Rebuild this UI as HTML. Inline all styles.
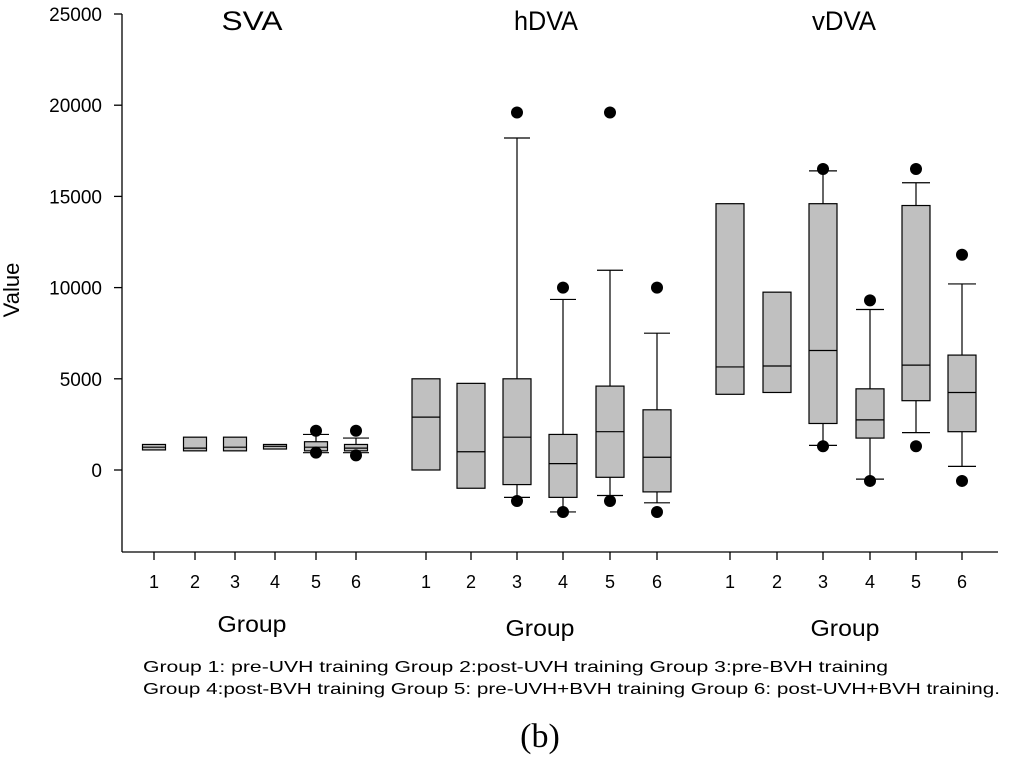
<!DOCTYPE html>
<html><head><meta charset="utf-8"><style>
body{margin:0;background:#fff;width:1024px;height:779px;overflow:hidden}
svg text{font-family:"Liberation Sans",Arial,sans-serif;fill:#000}
</style></head><body>
<svg id="chart" width="1024" height="779" viewBox="0 0 1024 779" xmlns="http://www.w3.org/2000/svg">
<g id="axes" stroke="#000" stroke-width="1.3" fill="none">
<line x1="122" y1="14" x2="122" y2="552"/>
<line x1="122" y1="552" x2="998" y2="552"/>
</g>
<g id="yticks"></g>
<g id="xticks"></g>
<g id="boxes"></g>
<text x="19" y="290" font-size="22" text-anchor="middle" transform="rotate(-90 19 290)">Value</text>
<text x="252" y="30" font-size="27" text-anchor="middle" textLength="61" lengthAdjust="spacingAndGlyphs">SVA</text>
<text x="546" y="30" font-size="27" text-anchor="middle" textLength="64" lengthAdjust="spacingAndGlyphs">hDVA</text>
<text x="844" y="30" font-size="27" text-anchor="middle" textLength="64" lengthAdjust="spacingAndGlyphs">vDVA</text>
<text x="252" y="632" font-size="23" text-anchor="middle" textLength="69" lengthAdjust="spacingAndGlyphs">Group</text>
<text x="540" y="636" font-size="23" text-anchor="middle" textLength="69" lengthAdjust="spacingAndGlyphs">Group</text>
<text x="845" y="636" font-size="23" text-anchor="middle" textLength="69" lengthAdjust="spacingAndGlyphs">Group</text>
<text x="143" y="672" font-size="16" textLength="745" lengthAdjust="spacingAndGlyphs">Group 1: pre-UVH training Group 2:post-UVH training Group 3:pre-BVH training</text>
<text x="143" y="694" font-size="16" textLength="857" lengthAdjust="spacingAndGlyphs">Group 4:post-BVH training Group 5: pre-UVH+BVH training Group 6: post-UVH+BVH training.</text>
<text x="540" y="747" font-size="34" text-anchor="middle" style="font-family:'Liberation Serif',serif">(b)</text>
</svg>
<script>
const yTicks=[0,5000,10000,15000,20000,25000];
const groupLabels=["1","2","3","4","5","6"];
const svaQ1=[1100,1050,1050,1150,1050,1050];
const svaMed=[1250,1200,1250,1300,1250,1200];
const svaQ3=[1400,1800,1800,1400,1550,1400];
const svaWLo=[null,null,null,null,950,950];
const svaWHi=[null,null,null,null,1950,1750];
const svaOut=[[],[],[],[],[2150,950],[2150,800]];
const hQ1=[0,-1000,-800,-1500,-400,-1200];
const hMed=[2900,1000,1800,350,2100,700];
const hQ3=[5000,4750,5000,1950,4600,3300];
const hWLo=[null,null,-1500,-2300,-1400,-1800];
const hWHi=[null,null,18200,9350,10950,7500];
const hOut=[[],[],[19600,-1700],[10000,-2300],[19600,-1700],[10000,-2300]];
const vQ1=[4150,4250,2550,1750,3800,2100];
const vMed=[5650,5700,6550,2750,5750,4250];
const vQ3=[14600,9750,14600,4450,14500,6300];
const vWLo=[null,null,1350,-500,2050,200];
const vWHi=[null,null,16400,8800,15750,10200];
const vOut=[[],[],[16500,1300],[9300,-600],[16500,1300],[11800,-600]];

const NS="http://www.w3.org/2000/svg";
const y0=470, k=456/25000;
function Y(v){return y0-v*k;}
function mk(tag,attrs,parent){const e=document.createElementNS(NS,tag);for(const a in attrs)e.setAttribute(a,attrs[a]);parent.appendChild(e);return e;}
const yt=document.getElementById('yticks');
yTicks.forEach(v=>{
  const l=mk('line',{x1:114,x2:122,y1:Y(v),y2:Y(v),stroke:'#000','stroke-width':1.3},yt);
  
  
  const t=mk('text',{x:102,y:Y(v)+7,'font-size':19,'text-anchor':'end'},yt);
  t.textContent=v;
  
  
});
const panels=[
 {name:'sva',xs:[154,195,235,275,316,356],w:23,cap:26,q1:svaQ1,med:svaMed,q3:svaQ3,wl:svaWLo,wh:svaWHi,out:svaOut},
 {name:'hdva',xs:[426,471,517,563,610,657],w:28,cap:26,q1:hQ1,med:hMed,q3:hQ3,wl:hWLo,wh:hWHi,out:hOut},
 {name:'vdva',xs:[730,777,823,870,916,962],w:28,cap:28,q1:vQ1,med:vMed,q3:vQ3,wl:vWLo,wh:vWHi,out:vOut}
];
const xt=document.getElementById('xticks'), bx=document.getElementById('boxes');
panels.forEach(p=>{
  p.xs.forEach((x,i)=>{
    const l=mk('line',{x1:x,x2:x,y1:552,y2:560,stroke:'#000','stroke-width':1.3},xt);
    
    
    const t=mk('text',{x:x,y:588,'font-size':18,'text-anchor':'middle'},xt);
    t.textContent=groupLabels[i];
    
    
    const g=mk('g',{stroke:'#000','stroke-width':1.2},bx);
    
    
    const h=p.w/2,c=p.cap/2;
    if(p.wh[i]!==null){
      mk('line',{x1:x,x2:x,y1:Y(p.wh[i]),y2:Y(p.q3[i])},g);
      mk('line',{x1:x-c,x2:x+c,y1:Y(p.wh[i]),y2:Y(p.wh[i])},g);
    }
    if(p.wl[i]!==null){
      mk('line',{x1:x,x2:x,y1:Y(p.q1[i]),y2:Y(p.wl[i])},g);
      mk('line',{x1:x-c,x2:x+c,y1:Y(p.wl[i]),y2:Y(p.wl[i])},g);
    }
    mk('rect',{x:x-h,y:Y(p.q3[i]),width:p.w,height:Y(p.q1[i])-Y(p.q3[i]),fill:'#c0c0c0'},g);
    mk('line',{x1:x-h,x2:x+h,y1:Y(p.med[i]),y2:Y(p.med[i])},g);
    p.out[i].forEach(v=>{
      const d=mk('circle',{cx:x,cy:Y(v),r:6,fill:'#000',stroke:'none'},bx);
      
      
    });
  });
});
</script>
</body></html>
